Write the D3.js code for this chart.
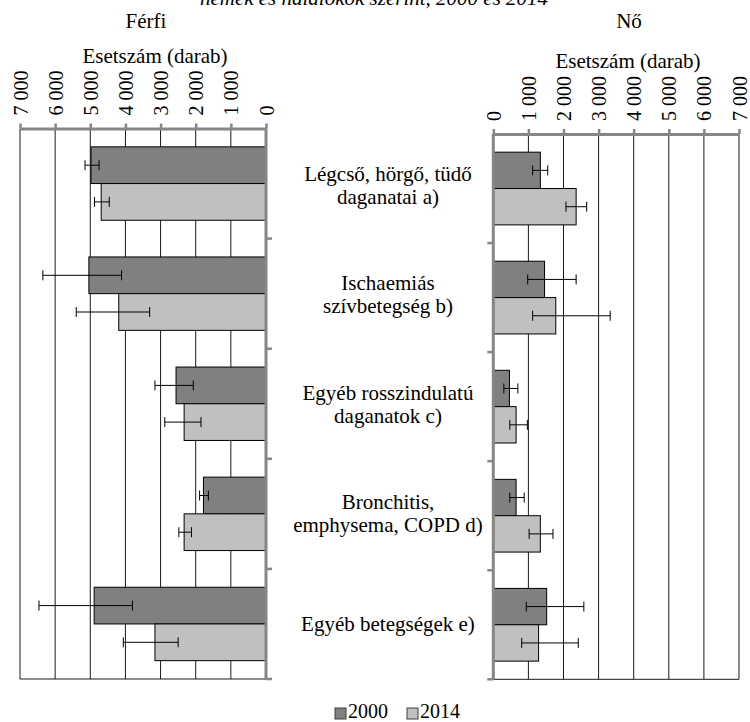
<!DOCTYPE html>
<html>
<head>
<meta charset="utf-8">
<script src="https://cdn.jsdelivr.net/npm/d3@7"></script>
<style>
  html, body { margin: 0; padding: 0; background: #fff; }
  svg { display: block; }
  svg text { font-family: 'Liberation Serif', 'DejaVu Serif', serif !important; fill: #000; }
</style>
</head>
<body>
<svg id="chart" width="750" height="722"></svg>
<script>
// Causes of death, cases by sex, 2000 and 2014 (with error ranges)
const categories = [
  ["Légcső, hörgő, tüdő", "daganatai a)"],
  ["Ischaemiás", "szívbetegség b)"],
  ["Egyéb rosszindulatú", "daganatok c)"],
  ["Bronchitis,", "emphysema, COPD d)"],
  ["Egyéb betegségek e)"]
];
const years = ["2000", "2014"];
const tickValues = [0, 1000, 2000, 3000, 4000, 5000, 6000, 7000];

// Men
const men2000 = [4980, 5040, 2560, 1780, 4890];
const men2000Low = [4750, 4110, 2070, 1640, 3800];
const men2000High = [5150, 6350, 3160, 1890, 6460];
const men2014 = [4690, 4190, 2330, 2330, 3160];
const men2014Low = [4460, 3310, 1850, 2120, 2500];
const men2014High = [4880, 5400, 2880, 2480, 4060];

// Women
const women2000 = [1340, 1460, 460, 650, 1520];
const women2000Low = [1120, 980, 300, 470, 940];
const women2000High = [1550, 2360, 700, 880, 2580];
const women2014 = [2360, 1780, 650, 1340, 1290];
const women2014Low = [2070, 1120, 470, 1020, 810];
const women2014High = [2660, 3330, 970, 1700, 2420];

const colors = { "2000": "#808080", "2014": "#c0c0c0" };
const axisGray = "#868686";
const serif = "'Liberation Serif', 'DejaVu Serif', serif";

const svg = d3.select("#chart").style("font-family", serif);
const fmt = d3.formatLocale({ decimal: ",", thousands: "\u00a0", grouping: [3], currency: ["", ""] }).format(",");

function buildSeries(v0, lo0, hi0, v1, lo1, hi1) {
  return categories.map((c, i) => ({
    idx: i,
    bars: [
      { year: "2000", v: v0[i], lo: lo0[i], hi: hi0[i] },
      { year: "2014", v: v1[i], lo: lo1[i], hi: hi1[i] }
    ]
  }));
}

function addText(parent) {
  return parent.append("text").style("font-family", serif);
}

function drawPanel(opts) {
  const { data, x, y0, y1, side } = opts;
  const g = svg.append("g");
  const yBand = d3.scaleBand().domain(d3.range(categories.length)).range([y0, y1])
    .paddingInner(1 / 3).paddingOuter(1 / 6);
  const yYear = d3.scaleBand().domain(years).range([0, yBand.bandwidth()]);
  const x0 = x(0);

  // vertical gridlines
  g.append("g").selectAll("line").data(tickValues.filter(d => d > 0)).join("line")
    .attr("x1", d => x(d)).attr("x2", d => x(d))
    .attr("y1", y0).attr("y2", y1)
    .attr("stroke", "#1a1a1a").attr("stroke-width", 1);

  // bottom border
  g.append("line").attr("x1", x(7000)).attr("x2", x0).attr("y1", y1).attr("y2", y1)
    .attr("stroke", "#1a1a1a").attr("stroke-width", 1);

  // bars
  const cat = g.append("g").selectAll("g").data(data).join("g")
    .attr("transform", d => `translate(0,${yBand(d.idx)})`);
  cat.selectAll("rect").data(d => d.bars).join("rect")
    .attr("x", d => Math.min(x(d.v), x0))
    .attr("width", d => Math.abs(x(d.v) - x0))
    .attr("y", d => yYear(d.year))
    .attr("height", yYear.bandwidth())
    .attr("fill", d => colors[d.year])
    .attr("stroke", "#000").attr("stroke-width", 1);

  // error bars
  const eb = cat.selectAll("g.err").data(d => d.bars).join("g").attr("class", "err")
    .attr("transform", d => `translate(0,${yYear(d.year) + yYear.bandwidth() / 2})`);
  eb.append("line").attr("x1", d => x(d.lo)).attr("x2", d => x(d.hi))
    .attr("y1", 0).attr("y2", 0).attr("stroke", "#000").attr("stroke-width", 1);
  eb.selectAll("line.cap").data(d => [d.lo, d.hi]).join("line").attr("class", "cap")
    .attr("x1", d => x(d)).attr("x2", d => x(d))
    .attr("y1", -5).attr("y2", 5).attr("stroke", "#000").attr("stroke-width", 1);

  // category axis (at value 0)
  const step = yBand.step();
  const bounds = d3.range(1, categories.length + 1).map(i => y0 + i * step);
  const dir = side === "left" ? 1 : -1;
  g.append("line").attr("x1", x0).attr("x2", x0).attr("y1", y0).attr("y2", y1)
    .attr("stroke", axisGray).attr("stroke-width", 3);
  g.append("g").selectAll("line").data(bounds).join("line")
    .attr("x1", x0).attr("x2", x0 + dir * 6)
    .attr("y1", d => d).attr("y2", d => d)
    .attr("stroke", axisGray).attr("stroke-width", 2.5);

  // value axis on top
  const axis = d3.axisTop(x).tickValues(tickValues).tickSize(5).tickSizeOuter(0).tickFormat(fmt);
  const ag = g.append("g").attr("transform", `translate(0,${y0})`).call(axis)
    .attr("font-family", null).style("font-family", serif);
  ag.select(".domain").attr("stroke", axisGray).attr("stroke-width", 3);
  ag.selectAll(".tick line").attr("stroke", axisGray).attr("stroke-width", 2.5);
  ag.selectAll(".tick text")
    .style("font-family", serif)
    .attr("font-size", 20)
    .attr("fill", "#000")
    .attr("text-anchor", "start")
    .attr("transform", "translate(0,-13) rotate(-90)")
    .attr("x", 0).attr("y", 0).attr("dy", "0.35em");

  return yBand;
}

// Men panel (values grow to the left)
const xMen = d3.scaleLinear().domain([0, 7000]).range([266, 20]);
const bandMen = drawPanel({
  data: buildSeries(men2000, men2000Low, men2000High, men2014, men2014Low, men2014High),
  x: xMen, y0: 128.5, y1: 679, side: "left"
});

// Women panel (values grow to the right)
const xWomen = d3.scaleLinear().domain([0, 7000]).range([493.3, 739]);
const bandWomen = drawPanel({
  data: buildSeries(women2000, women2000Low, women2000High, women2014, women2014Low, women2014High),
  x: xWomen, y0: 134, y1: 679.3, side: "right"
});

// Titles
addText(svg).attr("x", 374).attr("y", 5).attr("text-anchor", "middle")
  .attr("font-size", 21).attr("font-style", "italic")
  .text("nemek és halálokok szerint, 2000 és 2014");
addText(svg).attr("x", 146).attr("y", 28).attr("text-anchor", "middle")
  .attr("font-size", 21).text("Férfi");
addText(svg).attr("x", 629).attr("y", 28).attr("text-anchor", "middle")
  .attr("font-size", 21).text("Nő");
addText(svg).attr("x", 155).attr("y", 63).attr("text-anchor", "middle")
  .attr("font-size", 21).text("Esetszám (darab)");
addText(svg).attr("x", 628).attr("y", 68).attr("text-anchor", "middle")
  .attr("font-size", 21).text("Esetszám (darab)");

// Category labels between the panels
const labelG = svg.append("g");
categories.forEach((lines, i) => {
  const cy = (bandMen(i) + bandWomen(i)) / 2 + bandMen.bandwidth() / 2;
  const t = addText(labelG).attr("text-anchor", "middle").attr("font-size", 21);
  lines.forEach((ln, j) => {
    t.append("tspan").attr("x", 388)
      .attr("y", cy + 6 + (j - (lines.length - 1) / 2) * 23)
      .text(ln);
  });
});

// Legend
const legend = svg.append("g");
const legItems = [{ year: "2000", x: 335 }, { year: "2014", x: 407 }];
legItems.forEach(d => {
  legend.append("rect").attr("x", d.x).attr("y", 708).attr("width", 11).attr("height", 11)
    .attr("fill", colors[d.year]).attr("stroke", "#404040").attr("stroke-width", 1);
  addText(legend).attr("x", d.x + 13).attr("y", 718).attr("font-size", 20).text(d.year);
});
</script>
</body>
</html>
